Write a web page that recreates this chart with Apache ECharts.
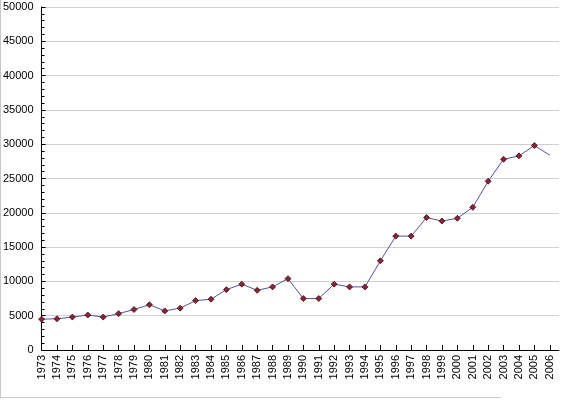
<!DOCTYPE html>
<html lang="en">
<head>
    <meta charset="UTF-8">
    <title>chart</title>
    <script src="https://cdn.jsdelivr.net/npm/echarts@6/dist/echarts.min.js"></script>
    <style>
        body { margin: 0; background: #fff; }
        #wrap { position: relative; width: 570px; height: 400px; }
        #chart1 { width: 570px; height: 400px; }
        #frame {
            position: absolute; left: 0; top: 0; width: 500px; height: 397px;
            border-left: 1px solid #c8c8c8; border-bottom: 1px solid #c8c8c8;
            pointer-events: none;
        }
    </style>
</head>
<body>
<div id="wrap">
    <div id="chart1"></div>
    <div id="frame"></div>
</div>

<script type="text/javascript">
    // data
    var years = [1973, 1974, 1975, 1976, 1977, 1978, 1979, 1980, 1981, 1982,
        1983, 1984, 1985, 1986, 1987, 1988, 1989, 1990, 1991, 1992,
        1993, 1994, 1995, 1996, 1997, 1998, 1999, 2000, 2001, 2002,
        2003, 2004, 2005, 2006];
    var values = [4500, 4550, 4800, 5100, 4800, 5300, 5900, 6600, 5700, 6100,
        7200, 7400, 8800, 9600, 8700, 9200, 10400, 7500, 7500, 9600,
        9200, 9200, 13000, 16600, 16600, 19300, 18800, 19200, 20800, 24600,
        27800, 28300, 29800, 28400];
    var yTicks = [0, 5000, 10000, 15000, 20000, 25000, 30000, 35000, 40000, 45000, 50000];

    var font = 'Liberation Sans, Arial, sans-serif';
    // plain numbers, no thousands separator
    var plain = function (v) { return String(v); };

    // the last point has no marker in the original
    var points = years.map(function (y, i) {
        var p = { value: [y, values[i]] };
        if (i === years.length - 1) p.symbol = 'none';
        return p;
    });

    var myChart1 = echarts.init(document.getElementById('chart1'));
    myChart1.setOption({
        animation: false,
        grid: { left: 41, right: 11, top: 7, bottom: 50 },
        xAxis: {
            type: 'value',
            min: 1973,
            max: 2006.6,
            interval: 1,
            axisLine: { lineStyle: { color: '#000', width: 1 } },
            axisTick: { inside: true, length: 5, customValues: years, lineStyle: { color: '#000' } },
            axisLabel: {
                customValues: years,
                formatter: plain,
                rotate: 90,
                margin: 5,
                color: '#000',
                fontFamily: font,
                fontSize: 11
            },
            splitLine: { show: false }
        },
        yAxis: {
            type: 'value',
            min: yTicks[0],
            max: yTicks[yTicks.length - 1],
            interval: 5000,
            axisLine: { show: true, lineStyle: { color: '#000', width: 1 } },
            axisTick: { inside: true, length: 4, lineStyle: { color: '#000' } },
            minorTick: { show: true, splitNumber: 5, length: 3, lineStyle: { color: '#000' } },
            axisLabel: { formatter: plain, margin: 8, color: '#000', fontFamily: font, fontSize: 11 },
            splitLine: { show: true, lineStyle: { color: '#d0d0d0', width: 1 } }
        },
        series: [{
            type: 'line',
            data: points,
            symbol: 'diamond',
            symbolSize: 6,
            lineStyle: { color: '#5252aa', width: 1 },
            itemStyle: { color: '#8b2332', borderColor: '#3a0f18', borderWidth: 0.8 }
        }]
    });
</script>
</body>
</html>
